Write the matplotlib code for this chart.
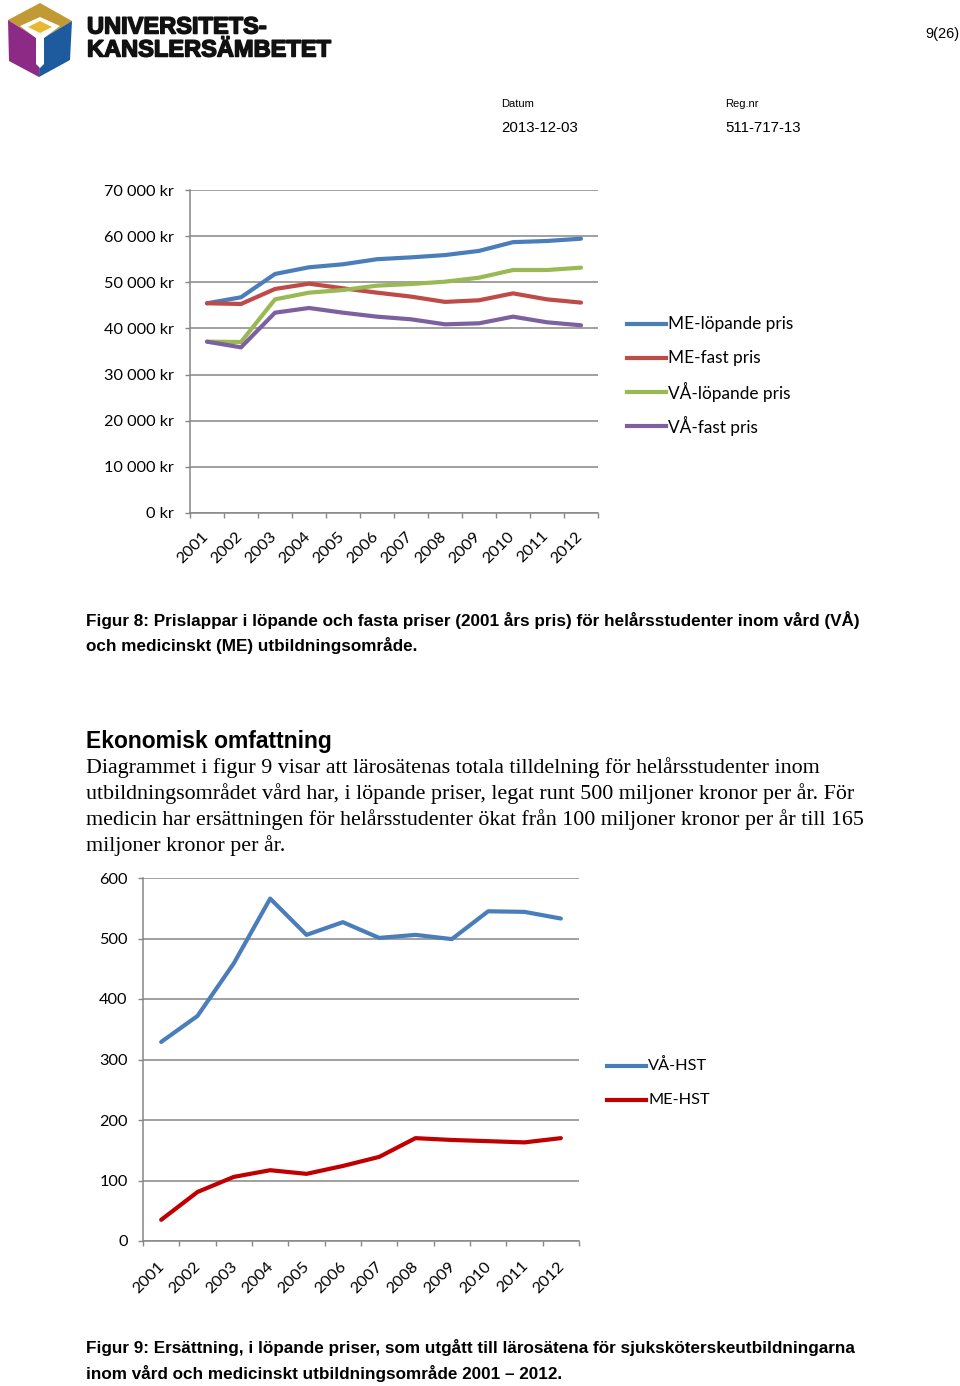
import matplotlib
matplotlib.use("Agg")
import matplotlib.pyplot as plt
import matplotlib.patheffects as pe
from matplotlib.patches import Polygon
from matplotlib.lines import Line2D
from matplotlib.transforms import ScaledTranslation

W, H = 960, 1386

# --- data: figur 8 (kr per helårsstudent) ---
years = ["2001", "2002", "2003", "2004", "2005", "2006",
         "2007", "2008", "2009", "2010", "2011", "2012"]
me_lopande = [45450, 46750, 51800, 53250, 53900, 55000, 55400, 55900, 56800, 58700, 58950, 59450]
me_fast = [45450, 45300, 48550, 49700, 48700, 47750, 46900, 45750, 46100, 47600, 46300, 45600]
va_lopande = [37130, 37060, 46300, 47750, 48330, 49270, 49630, 50130, 51000, 52660, 52660, 53170]
va_fast = [37130, 35900, 43410, 44430, 43410, 42550, 41980, 40890, 41110, 42550, 41330, 40680]
kr_ticks = [0, 10000, 20000, 30000, 40000, 50000, 60000, 70000]
kr_labels = ["0 kr", "10 000 kr", "20 000 kr", "30 000 kr", "40 000 kr",
             "50 000 kr", "60 000 kr", "70 000 kr"]

# --- data: figur 9 (miljoner kr) ---
va_hst = [329, 372, 459, 566, 506, 527, 501, 506, 499, 545, 544, 533]
me_hst = [35, 81, 106, 117, 111, 124, 139, 170, 167, 165, 163, 170]
mkr_ticks = [0, 100, 200, 300, 400, 500, 600]

BLUE = "#4a7ebb"
RED = "#be4b48"
GREEN = "#98b954"
PURPLE = "#7d60a0"
DARKRED = "#c00000"
GRID = "#868686"
CHART_FONT = "Lato"
FS = 11.7


def fx(x):
    return x / W


def fy(y):
    return 1 - y / H


def chart(rect, series, ticks, ticklabels, leg_x, leg_y, leg_fs, ytickpad, lab_dx, lab_dy):
    x0, y0, x1, y1 = rect
    ax = fig.add_axes([fx(x0), fy(y1), fx(x1) - fx(x0), (y1 - y0) / H])
    pos = list(range(len(years)))
    for vals, col, lab in series:
        ax.plot(pos, vals, color=col, lw=3.0, label=lab, solid_capstyle="round")
    ax.set_xlim(-0.5, len(years) - 0.5)
    ax.set_ylim(ticks[0], ticks[-1])
    ax.set_yticks(ticks)
    ax.set_yticklabels(ticklabels, fontsize=FS, fontfamily=CHART_FONT)
    # category labels, rotated 45 deg, placed below each category centre
    ax.set_xticks([p - 0.5 for p in pos] + [len(years) - 0.5])
    ax.set_xticklabels([])
    off = ax.get_xaxis_transform() + ScaledTranslation(lab_dx / 100, -lab_dy / 100,
                                                       fig.dpi_scale_trans)
    for p, yr in zip(pos, years):
        ax.text(p, 0, yr, transform=off, rotation=45, ha="right", va="top",
                fontsize=FS, family=CHART_FONT)
    ax.tick_params(axis="x", length=3.6, color=GRID, width=1)
    ax.tick_params(axis="y", length=3.6, color=GRID, width=1, pad=ytickpad)
    ax.grid(axis="y", color=GRID, lw=1.1)
    ax.set_axisbelow(True)
    for s in ("top", "right"):
        ax.spines[s].set_visible(False)
    for s in ("left", "bottom"):
        ax.spines[s].set_color(GRID)
        ax.spines[s].set_linewidth(1.1)
    # legend, Excel style, one row every 34 px
    for i, (vals, col, lab) in enumerate(series):
        y = leg_y + 34 * i
        fig.add_artist(Line2D([fx(leg_x), fx(leg_x + 39)], [fy(y), fy(y)],
                              transform=fig.transFigure, color=col, lw=3.0))
        fig.text(fx(leg_x + 41), fy(y), lab, fontsize=leg_fs, family=CHART_FONT,
                 va="center", ha="left")
    return ax


fig = plt.figure(figsize=(W / 100, H / 100), dpi=100)

# logo
lax = fig.add_axes([fx(6), fy(78), fx(70), 76 / H])
lax.set_xlim(6, 76); lax.set_ylim(78, 2); lax.axis("off")
top, ur, lr, bot, ll, ul, c = (40, 3), (72, 21), (70, 60), (39, 77), (9, 61), (8, 20), (40, 40)
lax.add_patch(Polygon([top, ur, c, ul], closed=True, fc="#c29a35", ec="none"))
lax.add_patch(Polygon([ul, c, bot, ll], closed=True, fc="#8c2a86", ec="none"))
lax.add_patch(Polygon([c, ur, lr, bot], closed=True, fc="#1d5a9e", ec="none"))
lax.add_patch(Polygon([(20, 26), (40, 17), (60, 26), (44, 38), (44, 64), (40, 68), (36, 64), (36, 38)],
                      closed=True, fc="white", ec="none"))
lax.add_patch(Polygon([(28, 27), (40, 21), (52, 27), (40, 33)], closed=True, fc="#e8b830", ec="none"))

heavy = [pe.withStroke(linewidth=1.1, foreground="#111111")]
fig.text(fx(87), fy(27), "UNIVERSITETS-", fontsize=17.0, fontweight="bold",
         family="Liberation Sans", va="center", ha="left", color="#111111", path_effects=heavy)
fig.text(fx(87), fy(50), "KANSLERSÄMBETET", fontsize=17.0, fontweight="bold",
         family="Liberation Sans", va="center", ha="left", color="#111111", path_effects=heavy)
fig.text(fx(959), fy(34), "9(26)", fontsize=10.5, family="Liberation Sans",
         va="center", ha="right")
fig.text(fx(501), fy(104), "Datum", fontsize=8, family="Liberation Sans", va="center")
fig.text(fx(725), fy(104), "Reg.nr", fontsize=8, family="Liberation Sans", va="center")
fig.text(fx(501), fy(128), "2013-12-03", fontsize=10.8, family="Liberation Sans", va="center")
fig.text(fx(725), fy(128), "511-717-13", fontsize=10.8, family="Liberation Sans", va="center")

chart((190, 190, 598, 513),
      [(me_lopande, BLUE, "ME-löpande pris"), (me_fast, RED, "ME-fast pris"),
       (va_lopande, GREEN, "VÅ-löpande pris"), (va_fast, PURPLE, "VÅ-fast pris")],
      kr_ticks, kr_labels, 627, 324, 12.4, 8.2, 4, 16)

cap = dict(fontsize=12.35, fontweight="bold", family="Liberation Sans", va="center", ha="left")
fig.text(fx(86), fy(620), "Figur 8: Prislappar i löpande och fasta priser (2001 års pris) "
         "för helårsstudenter inom vård (VÅ)", **cap)
fig.text(fx(86), fy(646), "och medicinskt (ME) utbildningsområde.", **cap)

fig.text(fx(86), fy(741), "Ekonomisk omfattning", fontsize=16.5, fontweight="bold",
         family="Liberation Sans", va="center", ha="left")
body = ["Diagrammet i figur 9 visar att lärosätenas totala tilldelning för helårsstudenter inom",
        "utbildningsområdet vård har, i löpande priser, legat runt 500 miljoner kronor per år. För",
        "medicin har ersättningen för helårsstudenter ökat från 100 miljoner kronor per år till 165",
        "miljoner kronor per år."]
for i, line in enumerate(body):
    fig.text(fx(86), fy(768 + 26 * i), line, fontsize=15.8, family="Liberation Serif",
             va="center", ha="left")

chart((143, 878, 579, 1241),
      [(va_hst, BLUE, "VÅ-HST"), (me_hst, DARKRED, "ME-HST")],
      mkr_ticks, [str(t) for t in mkr_ticks], 607, 1066, 11.7, 7.5, 6, 18)

fig.text(fx(86), fy(1347), "Figur 9: Ersättning, i löpande priser, som utgått till lärosätena "
         "för sjuksköterskeutbildningarna", **cap)
fig.text(fx(86), fy(1373), "inom vård och medicinskt utbildningsområde 2001 – 2012.", **cap)

fig.savefig("out.png", dpi=100, facecolor="white")
